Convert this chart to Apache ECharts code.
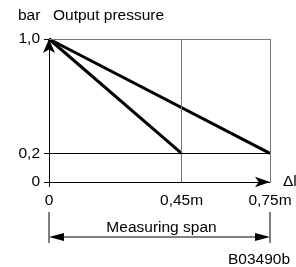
<!DOCTYPE html>
<html>
<head>
<meta charset="utf-8">
<script src="https://cdn.jsdelivr.net/npm/echarts@6/dist/echarts.min.js"></script>
<style>
  html, body { margin: 0; padding: 0; background: #fff; }
  #chart { width: 296px; height: 267px; }
</style>
</head>
<body>
<div id="chart"></div>
<script>
// span end points (m) and output pressure (bar)
var spanShort = [[0, 1.0], [0.45, 0.2]];
var spanLong = [[0, 1.0], [0.75, 0.2]];
var xTicks = [0, 0.45, 0.75];
var xTickLabels = ['0', '0,45m', '0,75m'];
var yTicks = [0, 0.2, 1.0];
var yTickLabels = ['0', '0,2', '1,0'];
var font = 'Liberation Sans, Arial, sans-serif';
var fs = 15.5;

var chart = echarts.init(document.getElementById('chart'));

function labelFor(ticks, labels) {
  return function (v) {
    for (var i = 0; i < ticks.length; i++) {
      if (Math.abs(ticks[i] - v) < 1e-6) return labels[i];
    }
    return '';
  };
}

var option = {
  animation: false,
  grid: { left: 49, right: 26, top: 39, bottom: 85, outerBoundsMode: 'none' },
  xAxis: {
    type: 'value', min: 0, max: 0.75,
    name: 'Δl', nameLocation: 'end', nameGap: 13,
    nameTextStyle: { color: '#000', fontFamily: font, fontSize: fs, align: 'left', verticalAlign: 'middle', padding: [2, 0, 0, 0] },
    axisLine: { lineStyle: { color: '#000', width: 1 }, symbol: ['none', 'arrow'], symbolSize: [8, 15] },
    axisTick: { show: true, customValues: [0], inside: false, length: 5, lineStyle: { color: '#000' } },
    axisLabel: {
      customValues: xTicks, formatter: labelFor(xTicks, xTickLabels),
      color: '#000', fontFamily: font, fontSize: fs, margin: 11
    },
    splitLine: { show: false }
  },
  yAxis: {
    type: 'value', min: 0, max: 1,
    axisLine: { show: true, lineStyle: { color: '#000', width: 1 }, symbol: ['none', 'arrow'], symbolSize: [9, 14] },
    axisTick: { show: true, customValues: yTicks, length: 5, lineStyle: { color: '#000' } },
    axisLabel: {
      customValues: yTicks, formatter: labelFor(yTicks, yTickLabels),
      color: '#000', fontFamily: font, fontSize: fs, margin: 9
    },
    splitLine: { show: false }
  },
  series: [
    {
      type: 'line', data: spanShort, symbol: 'none', z: 3,
      lineStyle: { color: '#000', width: 3 },
      markLine: {
        silent: true, symbol: 'none', label: { show: false },
        lineStyle: { color: '#777', width: 1, type: 'solid' },
        data: [{ xAxis: 0.45 }, { xAxis: 0.75 }, { yAxis: 1.0 }]
      }
    },
    {
      type: 'line', data: spanLong, symbol: 'none', z: 3,
      lineStyle: { color: '#000', width: 3 },
      markLine: {
        silent: true, symbol: 'none', label: { show: false },
        lineStyle: { color: '#000', width: 1, type: 'solid' },
        data: [{ yAxis: 0.2 }]
      }
    }
  ]
};
chart.setOption(option);

// titles and measuring span dimension, placed from the axis scale
var x0 = chart.convertToPixel({ gridIndex: 0 }, [0, 0])[0];
var x1 = chart.convertToPixel({ gridIndex: 0 }, [0.75, 0])[0];
var dimY = 237;
chart.setOption({
  graphic: [
    { type: 'text', x: 18, y: 16, style: { text: 'bar', fill: '#000', font: fs + 'px ' + font, verticalAlign: 'middle' } },
    { type: 'text', x: 53, y: 16, style: { text: 'Output pressure', fill: '#000', font: fs + 'px ' + font, verticalAlign: 'middle' } },
    { type: 'line', shape: { x1: x0, y1: 212, x2: x0, y2: 243 }, style: { stroke: '#000', lineWidth: 1 } },
    { type: 'line', shape: { x1: x1, y1: 212, x2: x1, y2: 243 }, style: { stroke: '#000', lineWidth: 1 } },
    { type: 'line', shape: { x1: x0 + 12, y1: dimY, x2: x1 - 12, y2: dimY }, style: { stroke: '#000', lineWidth: 1 } },
    { type: 'polygon', shape: { points: [[x0, dimY], [x0 + 15, dimY - 4], [x0 + 15, dimY + 4]] }, style: { fill: '#000' } },
    { type: 'polygon', shape: { points: [[x1, dimY], [x1 - 15, dimY - 4], [x1 - 15, dimY + 4]] }, style: { fill: '#000' } },
    { type: 'text', x: (x0 + x1) / 2 + 2, y: 228, style: { text: 'Measuring span', fill: '#000', font: fs + 'px ' + font, align: 'center', verticalAlign: 'middle' } },
    { type: 'text', x: 290, y: 260, style: { text: 'B03490b', fill: '#000', font: fs + 'px ' + font, align: 'right', verticalAlign: 'middle' } }
  ]
});
</script>
</body>
</html>
